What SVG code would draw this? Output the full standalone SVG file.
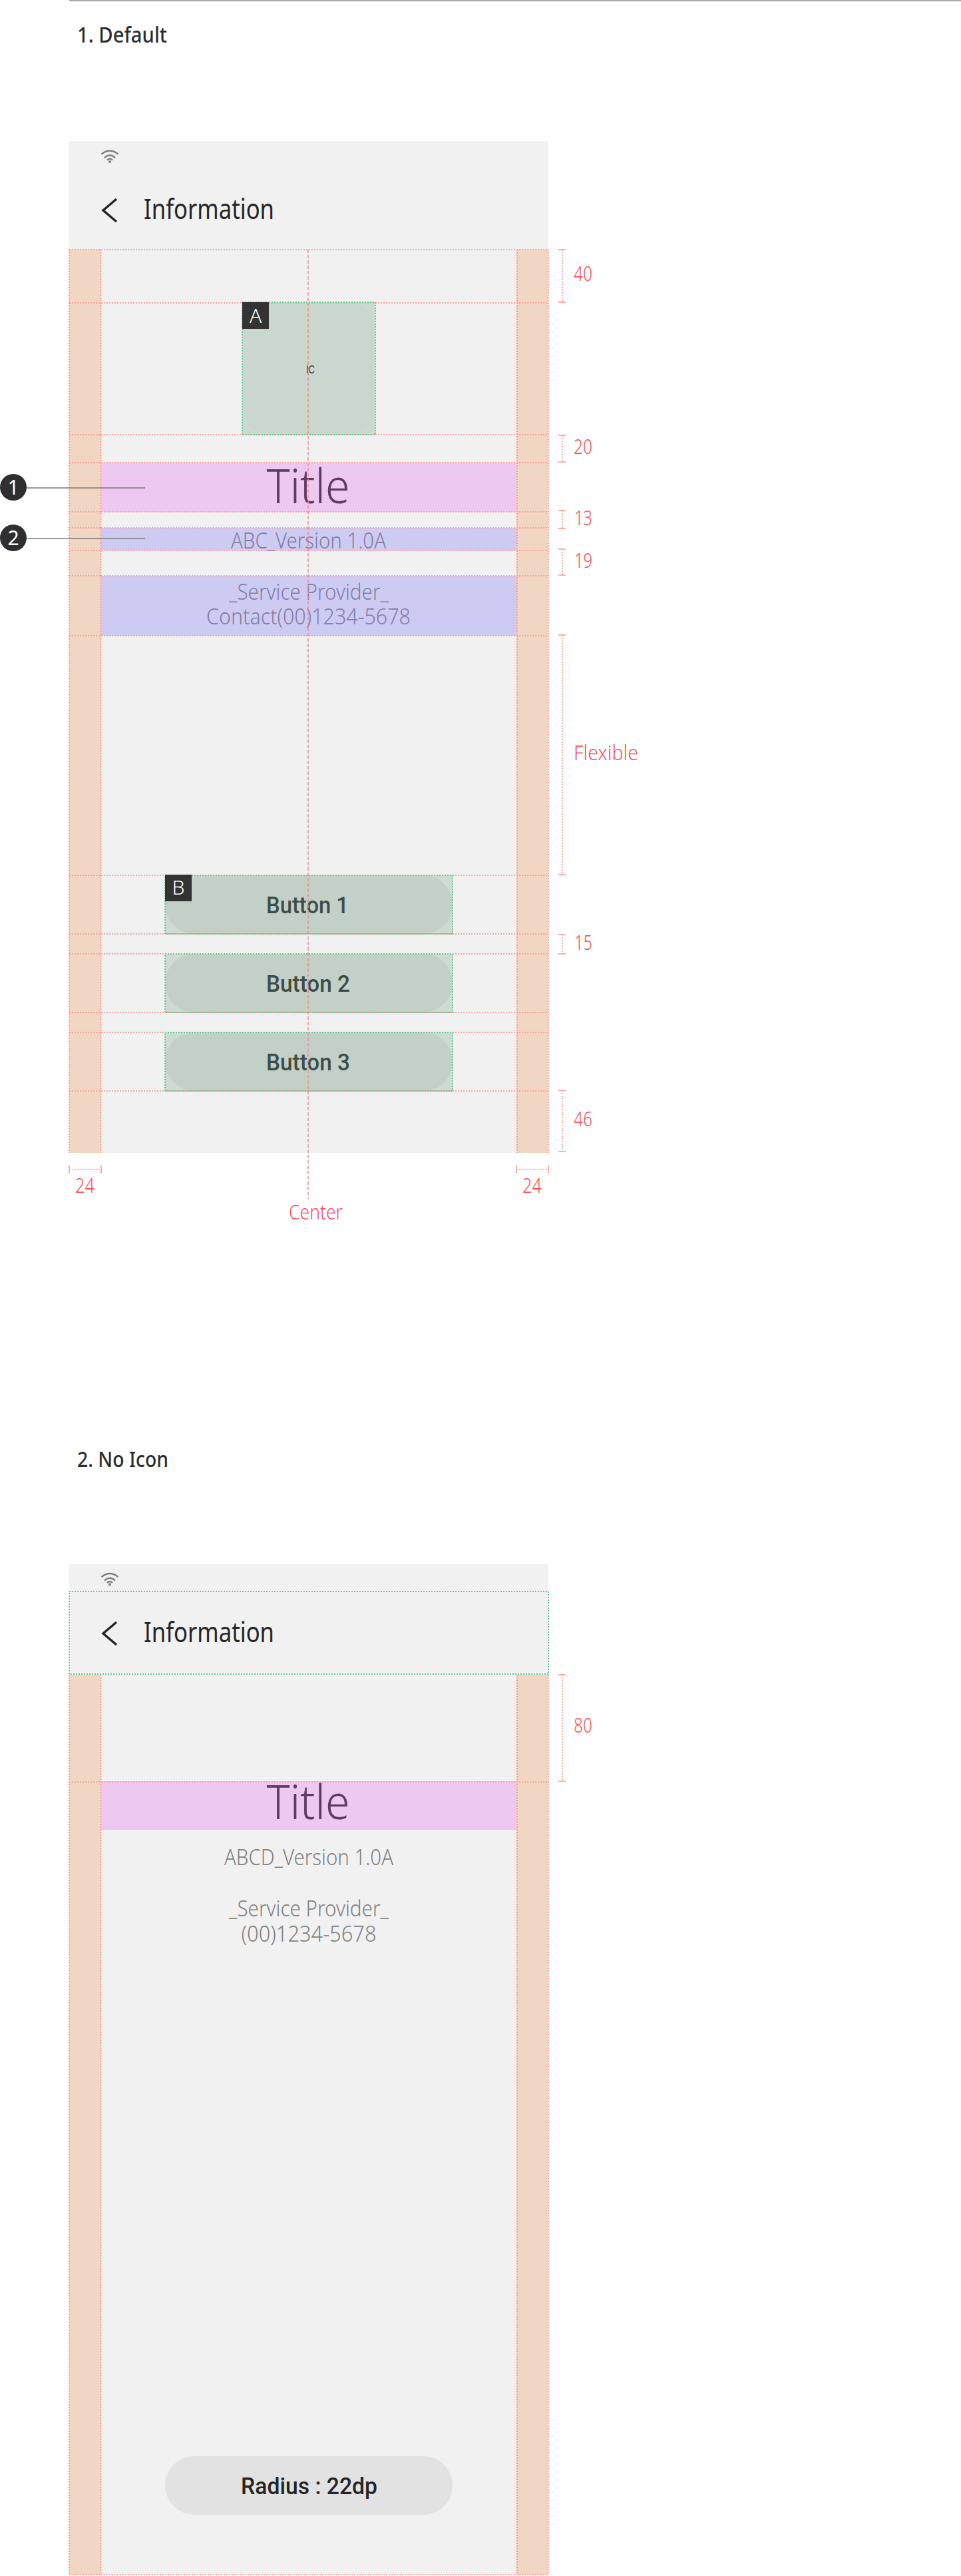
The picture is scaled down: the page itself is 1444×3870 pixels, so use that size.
<svg xmlns="http://www.w3.org/2000/svg" width="1444" height="3870" viewBox="0 0 1444 3870">
<defs>
<style>
text{font-family:"Noto Sans",Roboto,"Liberation Sans",sans-serif}
.phone{fill:#f1f1f1}.margin{fill:#f2d6c4}.pink{fill:#edc8f0}.violet{fill:#cecbf3}
.h{font-size:33px;font-weight:500;fill:#2e2e2e}
.appbar{font-size:41px;fill:#252525}
.dim{font-size:31px;font-weight:300;fill:#ff4f55}
.title{font-size:72px;font-weight:300;fill:#5f3a63;text-anchor:middle}
.sub{font-size:33px;font-weight:300;fill:#827da6;text-anchor:middle}
.gray{font-size:33px;font-weight:300;fill:#808080;text-anchor:middle}
.btn{font-size:35px;font-weight:500;fill:#3f4d46;font-family:Roboto,sans-serif}
.rad{font-size:35px;font-weight:500;fill:#252525;font-family:Roboto,sans-serif}
.badge{fill:#333}.badget{font-size:30px;font-weight:300;fill:#fff;text-anchor:middle}
.callt{font-size:30px;fill:#fff;text-anchor:middle}
.outer{fill:#cddbd3}.inner{fill:#c2d0c8}
.green{fill:none;stroke:#5fcb91;stroke-width:2;stroke-dasharray:2 2}
.guide{fill:none;stroke:#ff8f8f;stroke-opacity:.8;stroke-width:2;stroke-dasharray:2 2}
.center{fill:none;stroke:#f58a8a;stroke-opacity:.75;stroke-width:2;stroke-dasharray:5 3}
.tick{fill:none;stroke:#ffabab;stroke-width:2}
.dot{fill:none;stroke:#ffabab;stroke-width:2;stroke-dasharray:2 2}
.lead{stroke:#7d7d7d;stroke-opacity:.8;stroke-width:2}
.chev{fill:none;stroke:#252525;stroke-width:3.5}
.wifi{fill:none;stroke:#808080;stroke-width:2.4}
</style>
</defs>
<rect width="1444" height="3870" fill="#fff"/>
<g id="top-rule"><rect x="104" y="0" width="1340" height="2" fill="#ababab"/></g>

<g id="heading-1"><text class="h" x="116" y="64" textLength="135" lengthAdjust="spacingAndGlyphs">1. Default</text></g>

<g id="phone-1">
<rect class="phone" x="104" y="212" width="720" height="1520"/>
<g class="wifi"><path d="M152.5 231.5Q165 221.5 177.500 231.500"/><path d="M157 237Q165 229.500 173 237"/><path d="M161 240.500Q165 236.500 169 240.500"/></g>
<circle cx="165" cy="243" r="2" fill="#808080"/>
<path class="chev" d="M175 299L155 316L175 333"/>
<text class="appbar" x="216" y="329" textLength="196" lengthAdjust="spacingAndGlyphs">Information</text>
<rect class="margin" x="104" y="375" width="48" height="1357"/>
<rect class="margin" x="776" y="375" width="48" height="1357"/>
</g>

<g id="icon-a">
<rect x="364" y="454" width="200" height="199" fill="#ccdad2"/>
<rect x="366" y="455" width="196" height="197" rx="36" fill="#c9d7cf"/>
</g>

<g id="title-1">
<rect class="pink" x="152" y="695" width="624" height="74"/>
<text class="title" x="463" y="756" textLength="125" lengthAdjust="spacingAndGlyphs">Title</text>
</g>
<g id="version-1">
<rect class="violet" x="152" y="793" width="624" height="34"/>
<text class="sub" x="463.500" y="824" textLength="233" lengthAdjust="spacingAndGlyphs">ABC_Version 1.0A</text>
</g>
<g id="provider-1">
<rect class="violet" x="152" y="865" width="624" height="90"/>
<text class="sub" x="464" y="901" textLength="240" lengthAdjust="spacingAndGlyphs">_Service Provider_</text>
<text class="sub" x="463.500" y="938" textLength="307" lengthAdjust="spacingAndGlyphs">Contact(00)1234-5678</text>
</g>
<g id="button-1">
<rect class="outer" x="248" y="1315" width="432" height="88"/>
<rect class="inner" x="248" y="1315" width="432" height="88" rx="44"/>
<text class="btn" x="400" y="1372" textLength="124" lengthAdjust="spacingAndGlyphs">Button 1</text>
</g>
<g id="button-2">
<rect class="outer" x="248" y="1433" width="432" height="88"/>
<rect class="inner" x="248" y="1433" width="432" height="88" rx="44"/>
<text class="btn" x="400" y="1490" textLength="126" lengthAdjust="spacingAndGlyphs">Button 2</text>
</g>
<g id="button-3">
<rect class="outer" x="248" y="1551" width="432" height="88"/>
<rect class="inner" x="248" y="1551" width="432" height="88" rx="44"/>
<text class="btn" x="400" y="1608" textLength="126" lengthAdjust="spacingAndGlyphs">Button 3</text>
</g>

<g id="phone-2">
<rect class="phone" x="104" y="2350" width="720" height="1518"/>
<g class="wifi"><path d="M152.5 2369Q165 2359 177.500 2369"/><path d="M157 2374.500Q165 2367 173 2374.500"/><path d="M161 2378Q165 2374 169 2378"/></g>
<circle cx="165" cy="2380.500" r="2" fill="#808080"/>
<path class="chev" d="M175 2437L155 2454L175 2471"/>
<text class="appbar" x="216" y="2467" textLength="196" lengthAdjust="spacingAndGlyphs">Information</text>
<rect class="margin" x="104" y="2516" width="48" height="1352"/>
<rect class="margin" x="776" y="2516" width="48" height="1352"/>
</g>
<g id="title-2">
<rect class="pink" x="152" y="2676" width="624" height="73"/>
<text class="title" x="463" y="2733" textLength="125" lengthAdjust="spacingAndGlyphs">Title</text>
</g>
<g id="version-2"><text class="gray" x="464" y="2802" textLength="254" lengthAdjust="spacingAndGlyphs">ABCD_Version 1.0A</text></g>
<g id="provider-2">
<text class="gray" x="464" y="2879" textLength="240" lengthAdjust="spacingAndGlyphs">_Service Provider_</text>
<text class="gray" x="464" y="2916.500" textLength="203" lengthAdjust="spacingAndGlyphs">(00)1234-5678</text>
</g>
<g id="button-radius">
<rect x="248" y="3690" width="432" height="88" rx="44" fill="#e2e2e2"/>
<text class="rad" x="362" y="3747" textLength="205" lengthAdjust="spacingAndGlyphs">Radius : 22dp</text>
</g>

<g id="connectors">
<g id="guides-1">
<path class="guide" d="M104 375H824M104 455H824M104 653H824M104 695H824M104 769H824M104 793H824M104 827H824M104 865H824M104 955H824M104 1315H824M104 1403H824M104 1433H824M104 1521H824M104 1551H824M104 1639H824"/>
<path class="guide" d="M104 375V1732M151.500 375V1732M777 375V1732M824 375V1732"/>
<path class="center" d="M463 375V1802"/>
<rect class="green" x="364" y="454" width="200" height="199"/>
<rect class="green" x="248" y="1315" width="432" height="88"/>
<rect class="green" x="248" y="1433" width="432" height="88"/>
<rect class="green" x="248" y="1551" width="432" height="88"/>
</g>
<g id="dims-1">
<path class="tick" d="M839 375H850M839 454H850M839 654H850M839 694H850M839 767H850M839 794H850M839 825H850M839 864H850M839 954H850M839 1314H850M839 1404H850M839 1433H850M839 1638H850M839 1730H850M104 1751V1763M152 1751V1763M776 1751V1763M824 1751V1763"/>
<path class="dot" d="M845 375V454M845 654V694M845 767V794M845 825V864M845 954V1314M845 1404V1433M845 1638V1730M104 1757H152M776 1757H824"/>
</g>
<line class="lead" x1="40" y1="733" x2="218" y2="733"/>
<line class="lead" x1="40" y1="809" x2="218" y2="809"/>
<g id="guides-2">
<path class="guide" d="M104 2677H824M104 3868H824M104 2516V3868M151.500 2516V3868M777 2516V3868M824 2516V3868"/>
<rect class="green" x="104" y="2391" width="720" height="124"/>
<path class="tick" d="M839 2516H850M839 2676H850"/>
<path class="dot" d="M845 2516V2676"/>
</g>
</g>

<g id="icon-label"><text x="460" y="561" font-size="16" style="font-family:'Liberation Sans',sans-serif" fill="#333" textLength="13" lengthAdjust="spacingAndGlyphs">IC</text></g>
<g id="badge-a"><rect class="badge" x="364" y="454" width="40" height="40"/><text class="badget" x="384" y="485">A</text></g>
<g id="badge-b"><rect class="badge" x="248" y="1314" width="40" height="40"/><text class="badget" x="268" y="1344">B</text></g>
<g id="callout-1"><circle cx="20" cy="732" r="20" fill="#2f2f2f"/><text class="callt" x="20" y="743">1</text></g>
<g id="callout-2"><circle cx="20" cy="808" r="20" fill="#2f2f2f"/><text class="callt" x="20" y="819">2</text></g>

<g id="labels-1">
<text class="dim" x="862" y="422" textLength="28" lengthAdjust="spacingAndGlyphs">40</text>
<text class="dim" x="862" y="682" textLength="28" lengthAdjust="spacingAndGlyphs">20</text>
<text class="dim" x="863" y="789" textLength="27" lengthAdjust="spacingAndGlyphs">13</text>
<text class="dim" x="863" y="853" textLength="27" lengthAdjust="spacingAndGlyphs">19</text>
<text class="dim" x="862" y="1142" textLength="97" lengthAdjust="spacingAndGlyphs">Flexible</text>
<text class="dim" x="863" y="1427" textLength="27" lengthAdjust="spacingAndGlyphs">15</text>
<text class="dim" x="862" y="1692" textLength="28" lengthAdjust="spacingAndGlyphs">46</text>
<text class="dim" x="113" y="1792" textLength="29" lengthAdjust="spacingAndGlyphs">24</text>
<text class="dim" x="785" y="1792" textLength="29" lengthAdjust="spacingAndGlyphs">24</text>
<text class="dim" x="434" y="1832" textLength="81" lengthAdjust="spacingAndGlyphs">Center</text>
<text class="dim" x="862" y="2603" textLength="28" lengthAdjust="spacingAndGlyphs">80</text>
</g>

<g id="heading-2"><text class="h" x="116" y="2204" textLength="137" lengthAdjust="spacingAndGlyphs">2. No Icon</text></g>
</svg>
